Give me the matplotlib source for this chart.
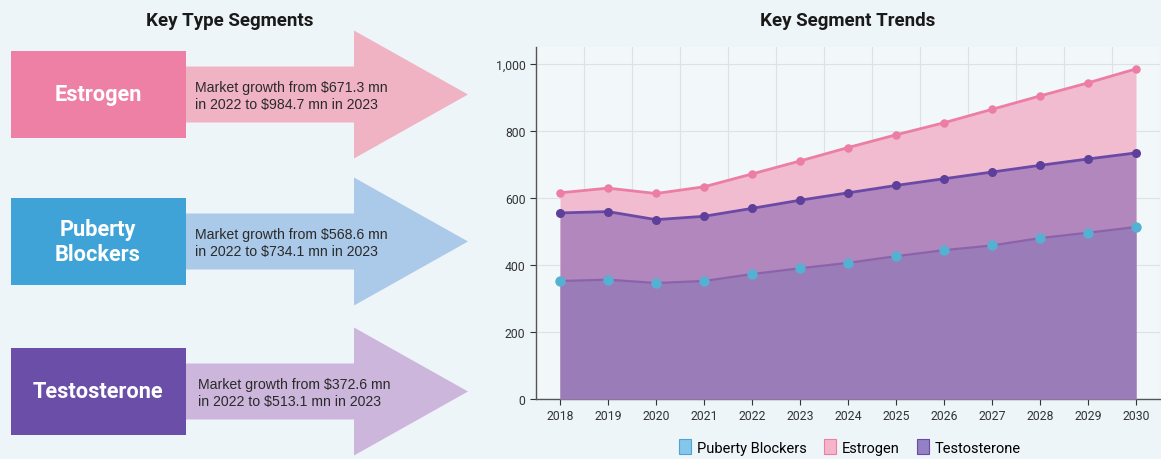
import matplotlib
matplotlib.use("Agg")
import matplotlib.pyplot as plt
from matplotlib.patches import Rectangle, Polygon
import numpy as np

# data
years = [2018, 2019, 2020, 2021, 2022, 2023, 2024, 2025, 2026, 2027, 2028, 2029, 2030]
puberty_blockers = [352, 356, 346, 352, 372.6, 390, 406, 426, 444, 458, 480, 496, 513.1]
estrogen = [615, 629, 613, 633, 671.3, 710, 750, 788, 824, 864, 904, 943, 984.7]
testosterone = [555, 559, 535, 545, 568.6, 593, 615, 637, 657, 677, 697, 716, 734.1]
y_ticks = [0, 200, 400, 600, 800, 1000]

seg_names = ["Estrogen", "Puberty\nBlockers", "Testosterone"]
seg_from = [671.3, 568.6, 372.6]
seg_to = [984.7, 734.1, 513.1]

bg = "#eef5f9"
W, H = 1161, 460
fig = plt.figure(figsize=(W / 100, H / 100), dpi=100)
fig.patch.set_facecolor(bg)

# ---- left panel: boxes + arrows (pixel coordinates)
left = fig.add_axes([0, 0, 1, 1])
left.set_xlim(0, W)
left.set_ylim(H, 0)
left.axis("off")

left.text(230, 21, "Key Type Segments", ha="center", va="center",
          fontsize=13.5, fontweight="bold", family="Roboto", color="#1a1a1a")

box_cols = ["#ee7fa5", "#3fa3d8", "#6a4ea8"]
arrow_cols = ["#f0b3c4", "#abc9e8", "#cdb6dc"]
box_tops = [52, 199, 349]
box_h = 87
for i, name in enumerate(seg_names):
    top = box_tops[i]
    mid = top + box_h / 2
    # arrow: shaft then head
    pts = [(185, mid - 28), (354, mid - 28), (354, mid - 64), (468, mid),
           (354, mid + 64), (354, mid + 28), (185, mid + 28)]
    left.add_patch(Polygon(pts, closed=True, facecolor=arrow_cols[i], edgecolor="none"))
    left.add_patch(Rectangle((11, top), 175, box_h, facecolor=box_cols[i], edgecolor="none"))
    left.text(98, mid, name, ha="center", va="center", color="white",
              fontsize=15.7, fontweight="bold", family="Roboto", linespacing=1.15)
    msg = f"Market growth from ${seg_from[i]:.1f} mn\nin 2022 to ${seg_to[i]:.1f} mn in 2023"
    left.text(195 if i < 2 else 198, mid + 1, msg, ha="left", va="center", color="#2a2a2a",
              fontsize=10.2, family="Liberation Sans", linespacing=1.2)

# ---- right panel: area chart
ax = fig.add_axes([536 / W, 60 / H, 624 / W, 352 / H])
ax.set_facecolor("#f2f7fa")
x = np.arange(len(years))

ax.fill_between(x, 0, estrogen, color="#f2bcd0", zorder=2, lw=0)
ax.fill_between(x, 0, testosterone, color="#b287bd", zorder=3, lw=0)
ax.fill_between(x, 0, puberty_blockers, color="#9a7cb8", zorder=4, lw=0)

ax.plot(x, estrogen, color="#ec7ea4", lw=2, zorder=5)
ax.plot(x, testosterone, color="#6a4aa6", lw=2, zorder=5)
ax.plot(x, puberty_blockers, color="#8c63aa", lw=1.6, zorder=5)

ax.scatter(x, estrogen, s=26, color="#ec7ea4", zorder=6)
ax.scatter(x, testosterone, s=30, color="#5e3f99", zorder=6)
ax.scatter(x, puberty_blockers, s=42, color="#55b1d2", zorder=6)

ax.set_xlim(-0.5, 12.5)
ax.set_ylim(0, 1050)
ax.set_xticks(x)
ax.set_xticklabels([str(y) for y in years])
ax.set_yticks(y_ticks)
ax.set_yticklabels([f"{v:,}" for v in y_ticks])
ax.set_xticks(np.arange(-0.5, 12.6, 1), minor=True)
ax.tick_params(axis="x", which="minor", length=0)
ax.grid(which="minor", axis="x", color="#dde2e6", lw=0.8, zorder=1)
ax.grid(which="major", axis="y", color="#dde2e6", lw=0.8, zorder=1)
ax.set_axisbelow(True)
ax.tick_params(axis="both", which="major", labelsize=8.8, colors="#333333", length=4, width=0.8)
for lab in ax.get_xticklabels() + ax.get_yticklabels():
    lab.set_family("Roboto")
for s in ["top", "right"]:
    ax.spines[s].set_visible(False)
for s in ["left", "bottom"]:
    ax.spines[s].set_color("#555555")
    ax.spines[s].set_linewidth(1)

fig.text(848 / W, 1 - 21 / H, "Key Segment Trends", ha="center", va="center",
         fontsize=13.5, fontweight="bold", family="Roboto", color="#1a1a1a")

handles = [Rectangle((0, 0), 1, 1, facecolor="#86c6ea", edgecolor="#4fa3d4", lw=0.8),
           Rectangle((0, 0), 1, 1, facecolor="#f6b4ca", edgecolor="#ec7ea4", lw=0.8),
           Rectangle((0, 0), 1, 1, facecolor="#9480c4", edgecolor="#6a4aa6", lw=0.8)]
fig.legend(handles, ["Puberty Blockers", "Estrogen", "Testosterone"],
           loc="center", bbox_to_anchor=(850 / W, 1 - 448 / H), ncol=3, frameon=False,
           prop={"family": "Roboto", "size": 10.5}, handlelength=0.8, handleheight=1.2,
           handletextpad=0.4, columnspacing=1.2)

fig.savefig("out.png", dpi=100, facecolor=bg)
